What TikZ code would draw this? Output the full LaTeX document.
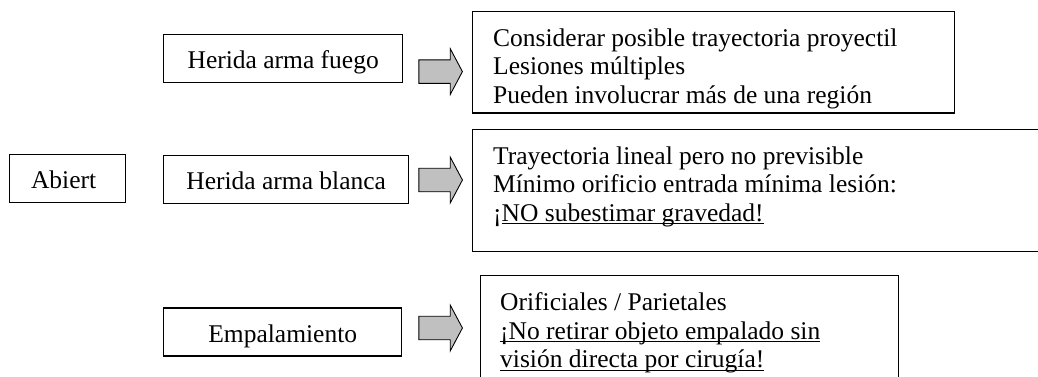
\documentclass[tikz,border=0pt]{standalone}
\usepackage{fontspec}
\setmainfont{Liberation Serif}
\usepackage{xcolor}
\usepackage{tikz}
\usetikzlibrary{shapes,arrows,arrows.meta}
\definecolor{flechagris}{RGB}{192,192,192}
\newsavebox\subbox
\newcommand{\subrayar}[1]{\sbox\subbox{#1}\rlap{\rule[-3pt]{\wd\subbox}{1.1pt}}\usebox\subbox}

\begin{document}
\begin{tikzpicture}[x=1pt,y=-1pt,
  every node/.style={font=\fontsize{25.5}{28.5}\selectfont},
  caja/.style={draw=black, line width=1.2pt, inner sep=0pt, text height=22pt, text depth=2pt, minimum height=48pt},
  marco/.style={draw=black, line width=1.4pt, anchor=north west, inner sep=0pt},
  texto/.style={anchor=north west, align=left, inner sep=0pt},
  flecha/.style={single arrow, draw=black, fill=flechagris, line width=0.9pt, minimum height=43.6pt, inner xsep=0pt, inner ysep=11.3pt, single arrow head extend=11.2pt, single arrow tip angle=124}]
\useasboundingbox (0,0) rectangle (1038,376);
\node[caja, minimum width=116.2pt] (abiert) at (67.6,178.5) {Abiert\hspace*{8pt}};
\node[caja, minimum width=239pt] (fuego) at (283.2,58.8) {Herida arma fuego};
\node[caja, minimum width=245pt] (blanca) at (286.2,179.2) {Herida arma blanca};
\node[caja, minimum width=238pt] (empal) at (282.7,332) {Empalamiento};
\foreach \nombre/\y in {fuegoflecha/71.6, blancaflecha/180, empalflecha/328}
\node[flecha] (\nombre) at (437.5,\y) {};
\node[marco, minimum width=482pt, minimum height=101.6pt] (fuegomarco) at (472,10.7) {};
\node[marco, minimum width=580pt, minimum height=122.2pt] (blancamarco) at (472,128.8) {};
\node[marco, minimum width=418pt, minimum height=110pt] (empalmarco) at (480,275) {};
\node[texto] (fuegotexto) at ([xshift=21pt,yshift=-17.5pt]fuegomarco.north west)
{Considerar posible trayectoria proyectil\\Lesiones múltiples\\Pueden involucrar más de una región};
\node[texto] (blancatexto) at ([xshift=21pt,yshift=-17.5pt]blancamarco.north west)
{Trayectoria lineal pero no previsible\\Mínimo orificio entrada mínima lesión:\\¡\subrayar{NO subestimar gravedad!}};
\node[texto] (empaltexto) at ([xshift=20pt,yshift=-17.5pt]empalmarco.north west)
{Orificiales / Parietales\\\subrayar{¡No retirar objeto empalado sin}\\\subrayar{visión directa por cirugía!}};
\end{tikzpicture}
\end{document}
